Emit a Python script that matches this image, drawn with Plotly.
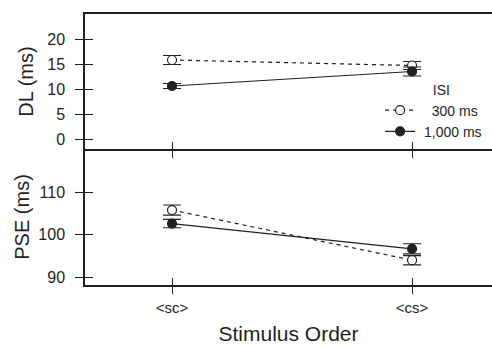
import plotly.graph_objects as go

categories = ["<sc>", "<cs>"]
xpos = [0, 1]
isi_labels = ["300 ms", "1,000 ms"]

dl_300 = [15.8, 14.7]
dl_300_err = [0.9, 0.8]
dl_1000 = [10.6, 13.5]
dl_1000_err = [0.5, 0.9]

pse_300 = [105.9, 94.0]
pse_300_err = [1.2, 1.1]
pse_1000 = [102.7, 96.7]
pse_1000_err = [1.0, 1.2]

dl_ticks = [0, 5, 10, 15, 20]
pse_ticks = [90, 100, 110]

INK = "#231f20"
FONT = "Liberation Sans, Arial, sans-serif"

fig = go.Figure()

def add_series(y, err, xa, ya, filled, name, show):
    fig.add_trace(go.Scatter(
        x=xpos, y=y, xaxis=xa, yaxis=ya, name=name, showlegend=show,
        mode="lines+markers",
        line=dict(color=INK, width=1.2, dash="solid" if filled else "4px,4px"),
        marker=dict(symbol="circle", size=9, color=INK if filled else "white",
                    line=dict(color=INK, width=1.2)),
        error_y=dict(type="data", array=err, visible=True, color=INK,
                     thickness=1.2, width=9),
    ))

add_series(dl_300, dl_300_err, "x", "y", False, "\u00a0\u00a0\u00a0" + isi_labels[0], True)
add_series(dl_1000, dl_1000_err, "x", "y", True, "\u00a0" + isi_labels[1], True)
add_series(pse_300, pse_300_err, "x2", "y2", False, isi_labels[0], False)
add_series(pse_1000, pse_1000_err, "x2", "y2", True, isi_labels[1], False)

# invisible traces so the overlay axes (inside tick halves) are drawn
fig.add_trace(go.Scatter(x=xpos, y=dl_1000, xaxis="x3", yaxis="y3", mode="markers",
                         marker=dict(opacity=0), showlegend=False, hoverinfo="skip"))
fig.add_trace(go.Scatter(x=xpos, y=pse_1000, xaxis="x4", yaxis="y4", mode="markers",
                         marker=dict(opacity=0), showlegend=False, hoverinfo="skip"))

xr = [-0.3625, 1.333]
split = (285 - 149) / 271
yr1 = [-2, 25]
yr2 = [88.1, 120.4]

common_x = dict(range=xr, tickvals=xpos, ticktext=categories, showgrid=False,
                zeroline=False, tickcolor=INK, tickwidth=1.2, ticklen=7,
                automargin=False)
common_y = dict(showgrid=False, zeroline=False, tickcolor=INK, tickwidth=1.2,
                ticklen=8, automargin=False)

fig.update_layout(
    width=492, height=347,
    margin=dict(l=85, r=0, t=14, b=62),
    paper_bgcolor="white", plot_bgcolor="white",
    font=dict(family=FONT, color=INK, size=16),
    xaxis=dict(**common_x, domain=[0, 1], anchor="y", ticks="outside",
               showticklabels=False, showline=True, linecolor=INK, linewidth=1.5,
               mirror=True),
    yaxis=dict(**common_y, domain=[split, 1], anchor="x", range=yr1,
               tickvals=dl_ticks, ticks="outside", showline=True, linecolor=INK,
               linewidth=1.5, ticklabelstandoff=7,
               title=dict(text="DL (ms)", font=dict(size=20), standoff=8)),
    xaxis2=dict(**common_x, domain=[0, 1], anchor="y2", ticks="outside",
                showline=True, linecolor=INK, linewidth=1.5,
                tickfont=dict(size=15), ticklabelstandoff=1,
                title=dict(text="Stimulus Order", font=dict(size=21), standoff=12)),
    yaxis2=dict(**common_y, domain=[0, split], anchor="x2", range=yr2,
                tickvals=pse_ticks, ticks="outside", showline=True, linecolor=INK,
                linewidth=1.5, ticklabelstandoff=7,
                title=dict(text="PSE (ms)", font=dict(size=20), standoff=3)),
    xaxis3=dict(**common_x, overlaying="x", anchor="y3", ticks="inside",
                showticklabels=False, showline=False),
    yaxis3=dict(**common_y, overlaying="y", anchor="x3", range=yr1,
                tickvals=dl_ticks, ticks="inside", showticklabels=False,
                showline=False, domain=[split, 1]),
    xaxis4=dict(**common_x, overlaying="x2", anchor="y4", ticks="inside",
                showticklabels=False, showline=False),
    yaxis4=dict(**common_y, overlaying="y2", anchor="x4", range=yr2,
                tickvals=pse_ticks, ticks="inside", showticklabels=False,
                showline=False, domain=[0, split]),
    legend=dict(x=0.725, y=0.77, xanchor="left", yanchor="top",
                bgcolor="rgba(0,0,0,0)", font=dict(size=14),
                title=dict(text="\u00a0\u00a0\u00a0\u00a0ISI", side="top center",
                           font=dict(size=14)),
                tracegroupgap=0, itemwidth=30),
)

fig.write_html("out.html", config={"displayModeBar": False},
               post_script="document.body.style.margin='0';")
